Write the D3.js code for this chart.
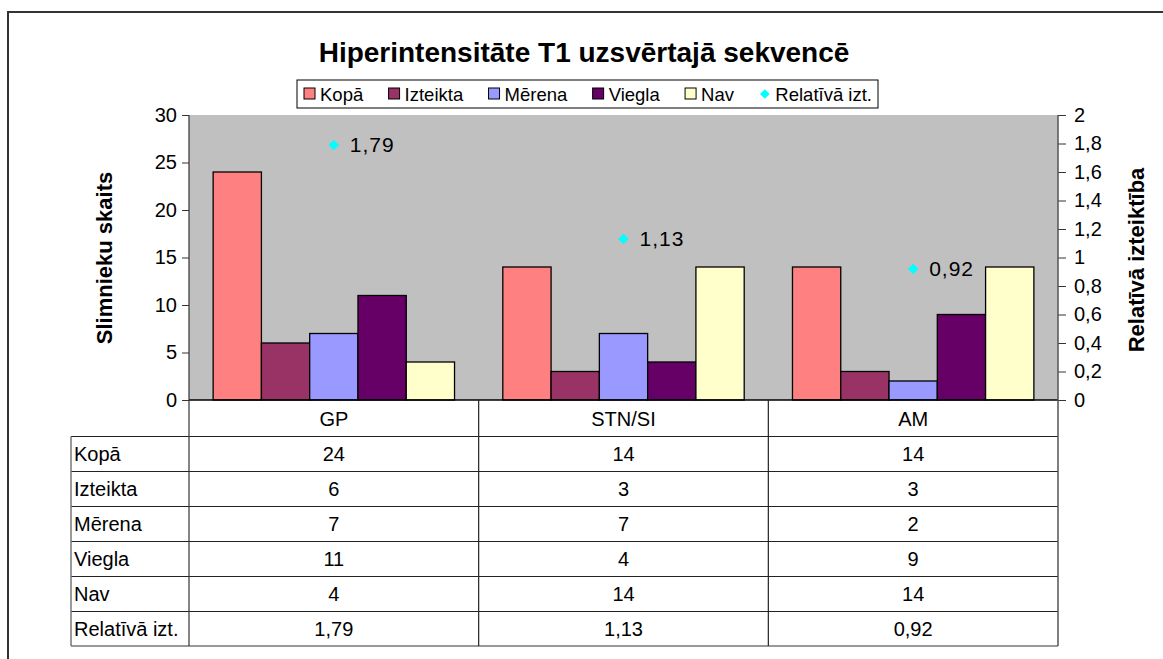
<!DOCTYPE html>
<html>
<head>
<meta charset="utf-8">
<script src="https://cdn.jsdelivr.net/npm/d3@7"></script>
<style>
  body { margin: 0; background: #fff; }
  text { font-family: "Liberation Sans", Arial, sans-serif; fill: #000; }
</style>
</head>
<body>
<script>
// kategorijas un sērijas
var categories = ["GP", "STN/SI", "AM"];
var seriesNames = ["Kopā", "Izteikta", "Mērena", "Viegla", "Nav"];
var seriesColors = ["#FF8080", "#993366", "#9999FF", "#660066", "#FFFFCC"];
var kopa = [24, 14, 14];
var izteikta = [6, 3, 3];
var merena = [7, 7, 2];
var viegla = [11, 4, 9];
var nav = [4, 14, 14];
var relativa = [1.79, 1.13, 0.92];
var leftTicks = [0, 5, 10, 15, 20, 25, 30];
var rightTicks = [0, 0.2, 0.4, 0.6, 0.8, 1, 1.2, 1.4, 1.6, 1.8, 2];

var seriesValues = [kopa, izteikta, merena, viegla, nav];
var fmt = function(v) { return String(v).replace(".", ","); };

var W = 1163, H = 659;
var svg = d3.select("body").append("svg").attr("width", W).attr("height", H);

// outer chart frame
svg.append("path").attr("d", "M8,700 L8,12 L1170,12")
  .attr("fill", "none").attr("stroke", "#333").attr("stroke-width", 2);

var plot = { left: 189, right: 1058, top: 115, bottom: 400 };

var x0 = d3.scaleBand().domain(categories).range([plot.left, plot.right]);
var x1 = d3.scaleBand().domain(seriesNames).range([0, x0.bandwidth()])
  .paddingInner(0).paddingOuter(0.5);
var y = d3.scaleLinear().domain([0, 30]).range([plot.bottom, plot.top]);
var y2 = d3.scaleLinear().domain([0, 2]).range([plot.bottom, plot.top]);

// plot background
svg.append("rect").attr("x", plot.left).attr("y", plot.top)
  .attr("width", plot.right - plot.left).attr("height", plot.bottom - plot.top)
  .attr("fill", "#C0C0C0");

// bars
seriesNames.forEach(function(s, si) {
  svg.append("g").selectAll("rect").data(categories).join("rect")
    .attr("x", function(c) { return x0(c) + x1(s); })
    .attr("y", function(c, i) { return y(seriesValues[si][i]); })
    .attr("width", x1.bandwidth())
    .attr("height", function(c, i) { return y(0) - y(seriesValues[si][i]); })
    .attr("fill", seriesColors[si])
    .attr("stroke", "#000").attr("stroke-width", 1.3);
});

// left axis
var gl = svg.append("g").attr("transform", "translate(" + plot.left + ",0)")
  .call(d3.axisLeft(y).tickValues(leftTicks).tickSize(7).tickPadding(5));
gl.select(".domain").remove();
gl.selectAll("line").attr("stroke", "#333");
gl.selectAll("text").style("font-size", "20px").style("font-family", "Liberation Sans, Arial");

// right axis
var gr = svg.append("g").attr("transform", "translate(" + plot.right + ",0)")
  .call(d3.axisRight(y2).tickValues(rightTicks).tickSize(8).tickPadding(8).tickFormat(fmt));
gr.select(".domain").remove();
gr.selectAll("line").attr("stroke", "#333");
gr.selectAll("text").style("font-size", "20px").style("font-family", "Liberation Sans, Arial");

// relative severity markers
var mx = function(c) { return x0(c) + x0.bandwidth() / 2; };
svg.append("g").selectAll("path").data(categories).join("path")
  .attr("d", d3.symbol().type(d3.symbolDiamond2).size(70))
  .attr("transform", function(c, i) { return "translate(" + mx(c) + "," + y2(relativa[i]) + ")"; })
  .attr("fill", "#00FFFF");
svg.append("g").selectAll("text").data(categories).join("text")
  .attr("x", function(c) { return mx(c) + 16; })
  .attr("y", function(c, i) { return y2(relativa[i]) + 7; })
  .style("font-size", "21px").style("letter-spacing", "1px")
  .text(function(c, i) { return fmt(relativa[i]); });

// data table
var rowH = 35, headTop = plot.bottom, headBottom = 436.5;
var tableLeft = 71;
var rows = seriesNames.concat(["Relatīvā izt."]);
var rowVals = seriesValues.concat([relativa.map(fmt)]);
var tableBottom = headBottom + rows.length * rowH - 0.5;
var tg = svg.append("g");

// horizontal lines
tg.append("line").attr("x1", plot.left).attr("x2", plot.right)
  .attr("y1", plot.bottom).attr("y2", plot.bottom).attr("stroke", "#000").attr("stroke-width", 1.5);
rows.forEach(function(r, i) {
  var yy = headBottom + i * rowH;
  tg.append("line").attr("x1", tableLeft).attr("x2", plot.right)
    .attr("y1", yy).attr("y2", yy).attr("stroke", "#222").attr("stroke-width", 1.2);
});
tg.append("line").attr("x1", tableLeft).attr("x2", plot.right)
  .attr("y1", tableBottom).attr("y2", tableBottom).attr("stroke", "#777").attr("stroke-width", 1.5);

// vertical lines
tg.append("line").attr("x1", tableLeft).attr("x2", tableLeft)
  .attr("y1", headBottom).attr("y2", tableBottom).attr("stroke", "#777").attr("stroke-width", 1.5);
[plot.left, x0("STN/SI"), x0("AM")].forEach(function(xx, i) {
  tg.append("line").attr("x1", xx).attr("x2", xx)
    .attr("y1", i === 0 ? plot.top : headTop).attr("y2", tableBottom)
    .attr("stroke", i === 0 ? "#333" : "#222").attr("stroke-width", 1.2);
});
tg.append("line").attr("x1", plot.right).attr("x2", plot.right)
  .attr("y1", plot.top).attr("y2", tableBottom).attr("stroke", "#555").attr("stroke-width", 1.5);

// header
tg.selectAll("text.cat").data(categories).join("text").attr("class", "cat")
  .attr("x", mx).attr("y", headBottom - 11).attr("text-anchor", "middle")
  .style("font-size", "20px").text(function(c) { return c; });

rows.forEach(function(r, i) {
  var yy = headBottom + i * rowH + rowH / 2 + 7;
  tg.append("text").attr("x", tableLeft + 3).attr("y", yy)
    .style("font-size", "20px").text(r);
  categories.forEach(function(c, ci) {
    tg.append("text").attr("x", mx(c)).attr("y", yy).attr("text-anchor", "middle")
      .style("font-size", "20px").text(rowVals[i][ci]);
  });
});

// title
svg.append("text").attr("x", 584).attr("y", 62).attr("text-anchor", "middle")
  .style("font-size", "28px").style("font-weight", "bold")
  .text("Hiperintensitāte T1 uzsvērtajā sekvencē");

// axis titles
svg.append("text").attr("transform", "translate(112,258) rotate(-90)")
  .attr("text-anchor", "middle").style("font-size", "22px").style("font-weight", "bold")
  .text("Slimnieku skaits");
svg.append("text").attr("transform", "translate(1144,260) rotate(-90)")
  .attr("text-anchor", "middle").style("font-size", "22px").style("font-weight", "bold")
  .text("Relatīvā izteiktība");

// legend
var lg = svg.append("g");
lg.append("rect").attr("x", 297).attr("y", 80).attr("width", 581).attr("height", 28)
  .attr("fill", "#fff").attr("stroke", "#000").attr("stroke-width", 1);
var legendItems = seriesNames.concat(["Relatīvā izt."]);
var items = legendItems.map(function(name, i) {
  var item = lg.append("g");
  if (i < seriesNames.length) {
    item.append("rect").attr("x", 0).attr("y", 88).attr("width", 11).attr("height", 11)
      .attr("fill", seriesColors[i]).attr("stroke", "#000").attr("stroke-width", 1);
  } else {
    item.append("path").attr("d", d3.symbol().type(d3.symbolDiamond2).size(60))
      .attr("transform", "translate(5.5,94)").attr("fill", "#00FFFF");
  }
  var t = item.append("text").attr("x", 16).attr("y", 101)
    .style("font-size", "18.5px").text(name);
  return { g: item, w: 16 + t.node().getComputedTextLength() };
});
var legStart = 304, legEnd = 872;
var gap = (legEnd - legStart - d3.sum(items, function(d) { return d.w; })) / (items.length - 1);
var lx = legStart;
items.forEach(function(d) {
  d.g.attr("transform", "translate(" + lx + ",0)");
  lx += d.w + gap;
});
</script>
</body>
</html>
